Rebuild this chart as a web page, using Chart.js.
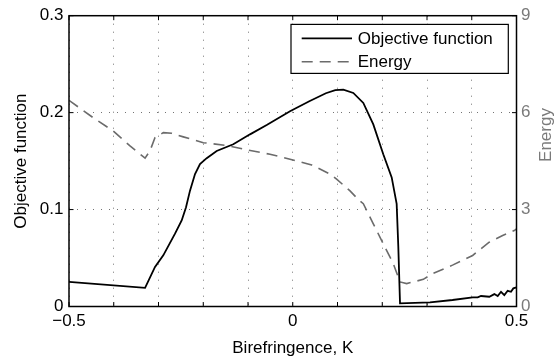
<!DOCTYPE html>
<html>
<head>
<meta charset="utf-8">
<script src="https://cdn.jsdelivr.net/npm/chart.js@4"></script>
<style>
  html, body { margin: 0; padding: 0; background: #fff; }
  #wrap { width: 556px; height: 362px; }
</style>
</head>
<body>
<div id="wrap"><canvas id="c" width="556" height="362"></canvas></div>
<script>
// Objective function versus birefringence K
const objK = [-0.5, -0.33, -0.3078, -0.2893, -0.2631, -0.2482, -0.2385, -0.2296, -0.2184, -0.2073,
  -0.1923, -0.170, -0.1329, -0.0955, -0.0582, -0.0061, 0.037, 0.074, 0.095, 0.113,
  0.1353, 0.1577, 0.18, 0.2023, 0.2211, 0.2322, 0.2359, 0.2397, 0.3067, 0.357,
  0.402, 0.4133, 0.4207, 0.4393, 0.4505, 0.458, 0.4654, 0.4728, 0.4803, 0.4877,
  0.4929, 0.5];
const objVal = [0.0254, 0.0193, 0.0408, 0.0528, 0.0751, 0.0887, 0.1024, 0.1195, 0.1366, 0.1469,
  0.153, 0.1605, 0.1674, 0.1776, 0.1872, 0.2015, 0.2118, 0.2200, 0.2232, 0.2238,
  0.2203, 0.210, 0.1879, 0.157, 0.1332, 0.1058, 0.0613, 0.0033, 0.0043, 0.0067,
  0.0094, 0.0094, 0.0108, 0.0101, 0.0128, 0.0108, 0.0152, 0.0118, 0.0162, 0.0152,
  0.0187, 0.0197];

// Energy versus birefringence K
const energyK = [-0.5, -0.4457, -0.401, -0.3637, -0.330, -0.319, -0.308, -0.2893, -0.2705, -0.2446,
  -0.1999, -0.1514, -0.103, -0.0508, -0.0061, 0.0424, 0.0832, 0.098, 0.128, 0.1487,
  0.1577, 0.18, 0.2023, 0.2246, 0.2397, 0.2546, 0.2918, 0.3128, 0.357, 0.402,
  0.439, 0.469, 0.495, 0.5];
const energyVal = [6.38, 5.84, 5.43, 4.97, 4.59, 4.82, 5.22, 5.38, 5.36, 5.25,
  5.07, 4.99, 4.85, 4.71, 4.56, 4.38, 4.10, 3.94, 3.58, 3.28,
  3.18, 2.56, 1.94, 1.33, 0.76, 0.71, 0.84, 1.02, 1.28, 1.58,
  1.99, 2.2, 2.35, 2.4];

// Labelled ticks
const xTickLabels = [-0.5, 0, 0.5];
const yTickLabels = [0, 0.1, 0.2, 0.3];
const energyTickLabels = [0, 3, 6, 9];

const FONT = "'Liberation Sans', Arial, Helvetica, sans-serif";
const FS = 17;
const GRAY_LINE = '#6b6b6b';
const GRAY_TEXT = '#7a7a7a';
const ENERGY_DASH = [11, 7];

Chart.defaults.font.family = FONT;
Chart.defaults.font.size = FS;
Chart.defaults.color = '#000';

const near = (a, b) => Math.abs(a - b) < 1e-9;
const fmtK = v => (near(v, 0) ? '0' : (v < 0 ? '\u2212' + Math.abs(v).toFixed(1) : v.toFixed(1)));

// Box frame, inward tick marks, boxed legend and right-hand axis title
const decorations = {
  id: 'decorations',
  afterDatasetsDraw(chart) {
    const { ctx, chartArea: a, scales } = chart;
    ctx.save();
    ctx.strokeStyle = '#000';
    ctx.lineWidth = 1.5;
    ctx.strokeRect(a.left, a.top, a.right - a.left, a.bottom - a.top);

    const tl = 4.5;
    ctx.lineWidth = 1;
    ctx.beginPath();
    scales.x.ticks.forEach(t => {
      const px = scales.x.getPixelForValue(t.value);
      ctx.moveTo(px, a.bottom); ctx.lineTo(px, a.bottom - tl);
      ctx.moveTo(px, a.top); ctx.lineTo(px, a.top + tl);
    });
    scales.y.ticks.forEach(t => {
      const py = scales.y.getPixelForValue(t.value);
      ctx.moveTo(a.left, py); ctx.lineTo(a.left + tl, py);
    });
    scales.y2.ticks.forEach(t => {
      const py = scales.y2.getPixelForValue(t.value);
      ctx.moveTo(a.right, py); ctx.lineTo(a.right - tl, py);
    });
    ctx.stroke();

    // legend box
    const bx0 = a.right - 225.5, bx1 = a.right - 8.2;
    const by0 = a.top + 8.7, by1 = a.top + 57.7;
    ctx.fillStyle = '#fff';
    ctx.fillRect(bx0, by0, bx1 - bx0, by1 - by0);
    ctx.lineWidth = 1.2;
    ctx.strokeStyle = '#000';
    ctx.strokeRect(bx0, by0, bx1 - bx0, by1 - by0);

    const rows = [by0 + 14, by0 + 37.3];
    const lx0 = bx0 + 10.7, lx1 = bx0 + 61;
    chart.data.datasets.forEach((ds, i) => {
      const y = rows[i];
      ctx.beginPath();
      ctx.setLineDash(ds.borderDash || []);
      ctx.strokeStyle = ds.borderColor;
      ctx.lineWidth = ds.borderWidth;
      ctx.moveTo(lx0, y); ctx.lineTo(lx1, y);
      ctx.stroke();
      ctx.setLineDash([]);
      ctx.fillStyle = '#000';
      ctx.font = `${FS}px ${FONT}`;
      ctx.textAlign = 'left';
      ctx.textBaseline = 'middle';
      ctx.fillText(ds.label, bx0 + 66.7, y + 0.5);
    });

    // right axis title, reading bottom to top
    ctx.translate(a.right + 30, 135);
    ctx.rotate(-Math.PI / 2);
    ctx.fillStyle = GRAY_TEXT;
    ctx.font = `${FS}px ${FONT}`;
    ctx.textAlign = 'center';
    ctx.textBaseline = 'middle';
    ctx.fillText('Energy', 0, 0);
    ctx.restore();
  }
};

const gridStyle = { color: 'rgba(0,0,0,0.55)', lineWidth: 1, drawTicks: false };
const dotted = { display: false, dash: [1, 7] };

new Chart(document.getElementById('c'), {
  type: 'line',
  data: {
    datasets: [
      {
        label: 'Objective function',
        data: objK.map((k, i) => ({ x: k, y: objVal[i] })),
        borderColor: '#000',
        borderWidth: 1.8,
        pointRadius: 0,
        tension: 0,
        yAxisID: 'y'
      },
      {
        label: 'Energy',
        data: energyK.map((k, i) => ({ x: k, y: energyVal[i] })),
        borderColor: GRAY_LINE,
        borderWidth: 1.6,
        borderDash: ENERGY_DASH,
        pointRadius: 0,
        tension: 0,
        yAxisID: 'y2'
      }
    ]
  },
  options: {
    responsive: false,
    animation: false,
    devicePixelRatio: 1,
    layout: { padding: { top: 14, left: 0, right: 0, bottom: 0 } },
    plugins: { legend: { display: false }, tooltip: { enabled: false } },
    scales: {
      x: {
        type: 'linear',
        min: -0.5, max: 0.5,
        grid: gridStyle,
        border: dotted,
        ticks: {
          stepSize: 0.1, autoSkip: false, maxRotation: 0, padding: 4.5,
          callback: v => (xTickLabels.some(t => near(t, v)) ? fmtK(v) : '')
        },
        title: { display: true, text: 'Birefringence, K', padding: { top: 0, bottom: 3 } },
        afterFit: s => { s.height = 55.5; }
      },
      y: {
        type: 'linear', position: 'left',
        min: 0, max: 0.3,
        grid: gridStyle,
        border: dotted,
        ticks: {
          stepSize: 0.1, padding: 5.5,
          callback: v => (yTickLabels.some(t => near(t, v)) ? (near(v, 0) ? '0' : v.toFixed(1)) : '')
        },
        title: { display: true, text: 'Objective function', padding: { top: 11.5, bottom: 0 } },
        afterFit: s => { s.width = 69; }
      },
      y2: {
        type: 'linear', position: 'right',
        min: 0, max: 9,
        grid: { drawOnChartArea: false, drawTicks: false },
        border: { display: false },
        ticks: {
          stepSize: 3, padding: 4.5, color: GRAY_TEXT,
          callback: v => (energyTickLabels.some(t => near(t, v)) ? String(v) : '')
        },
        afterFit: s => { s.width = 39.5; }
      }
    }
  },
  plugins: [decorations]
});
</script>
</body>
</html>
